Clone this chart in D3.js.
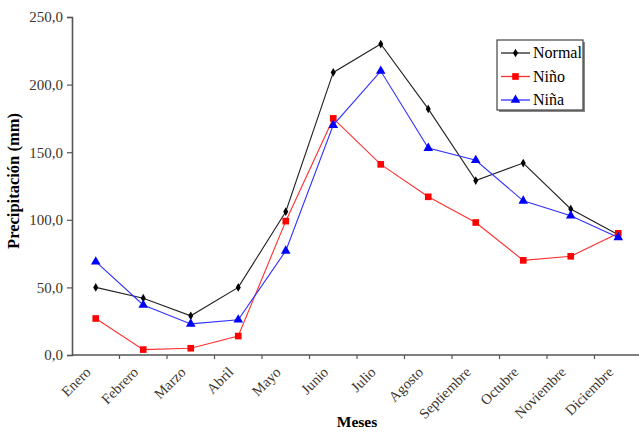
<!DOCTYPE html>
<html>
<head>
<meta charset="utf-8">
<script src="https://cdn.jsdelivr.net/npm/d3@7"></script>
<style>
  body { margin: 0; background: #fff; }
  svg text { font-family: "Liberation Serif", "Times New Roman", Times, "DejaVu Serif", serif !important; }
</style>
</head>
<body>
<div id="container"></div>
<script>
/* CONSTANTS AND GLOBALS */
const width = 639,
  height = 432,
  margin = { top: 17, bottom: 77, left: 72, right: -3 };

// DATA
const meses = ["Enero", "Febrero", "Marzo", "Abril", "Mayo", "Junio",
  "Julio", "Agosto", "Septiembre", "Octubre", "Noviembre", "Diciembre"];
const normal = [50, 42, 29, 50, 106, 209, 230, 182, 129, 142, 108, 89];
const nino = [27, 4, 5, 14, 99, 175, 141, 117, 98, 70, 73, 90];
const nina = [69, 37, 23, 26, 77, 170, 210, 153, 144, 114, 103, 87];
const yTicks = [0, 50, 100, 150, 200, 250];

const serif = "'Liberation Serif', 'Times New Roman', 'DejaVu Serif', serif";

const series = [
  { name: "Normal", values: normal, color: "#000", line: "#222", symbol: d3.symbolDiamond, size: 22 },
  { name: "Niño", values: nino, color: "#ff0000", line: "#ff3030", symbol: d3.symbolSquare, size: 44 },
  { name: "Niña", values: nina, color: "#0000ff", line: "#3030ff", symbol: d3.symbolTriangle, size: 40 }
];

// APPEND SVG
const svg = d3.select("#container")
  .append("svg")
  .attr("width", width)
  .attr("height", height)
  .style("font-family", serif);

// SCALES
const x = d3.scaleBand()
  .domain(meses)
  .range([margin.left, width - margin.right]);

const y = d3.scaleLinear()
  .domain([0, 250])
  .range([height - margin.bottom, margin.top]);

// Y AXIS
const yAxis = svg.append("g")
  .attr("transform", `translate(${margin.left},0)`)
  .call(d3.axisLeft(y).tickValues(yTicks).tickSize(5).tickPadding(4)
    .tickFormat(d => d3.format(".1f")(d).replace(".", ",")));
yAxis.attr("font-family", serif);
yAxis.select(".domain").attr("stroke", "#555").attr("stroke-width", 1.6);
yAxis.selectAll(".tick line").attr("stroke", "#555").attr("stroke-width", 1.2);
yAxis.selectAll(".tick text")
  .attr("fill", "#3b342c")
  .style("font-size", "15px")
  .style("font-family", serif);

// X AXIS (ticks at category boundaries)
const xAxisG = svg.append("g")
  .attr("transform", `translate(0,${y(0)})`);
xAxisG.append("line")
  .attr("x1", margin.left).attr("x2", width)
  .attr("stroke", "#555").attr("stroke-width", 1.6);
xAxisG.selectAll("line.tick")
  .data(meses.slice(1))
  .join("line")
  .attr("class", "tick")
  .attr("x1", d => x(d)).attr("x2", d => x(d))
  .attr("y1", 0).attr("y2", 4)
  .attr("stroke", "#555").attr("stroke-width", 1.2);
xAxisG.selectAll("text.mes")
  .data(meses)
  .join("text")
  .attr("class", "mes")
  .attr("text-anchor", "end")
  .attr("transform", d => `translate(${x(d) + x.bandwidth() / 2 - 4},${18}) rotate(-45)`)
  .attr("fill", "#3b342c")
  .style("font-size", "14.5px")
  .style("font-family", serif)
  .text(d => d);

// AXIS TITLES
svg.append("text")
  .attr("x", 357)
  .attr("y", 427)
  .attr("text-anchor", "middle")
  .style("font-size", "15.5px")
  .style("font-weight", "bold")
  .style("font-family", serif)
  .text("Meses");

svg.append("text")
  .attr("transform", `translate(19,${181}) rotate(-90)`)
  .attr("text-anchor", "middle")
  .style("font-size", "16.5px")
  .style("font-weight", "bold")
  .style("font-family", serif)
  .text("Precipitación (mm)");

// LINES AND MARKERS
const lineGen = d3.line()
  .x((d, i) => x(meses[i]) + x.bandwidth() / 2)
  .y(d => y(d));

series.forEach(s => {
  svg.append("path")
    .datum(s.values)
    .attr("d", lineGen)
    .attr("fill", "none")
    .attr("stroke", s.line)
    .attr("stroke-width", 1.1);

  svg.selectAll(null)
    .data(s.values)
    .join("path")
    .attr("d", d3.symbol().type(s.symbol).size(s.size))
    .attr("fill", s.color)
    .attr("transform", (d, i) => `translate(${x(meses[i]) + x.bandwidth() / 2},${y(d)})`);
});

// LEGEND
const legend = svg.append("g")
  .attr("class", "legend")
  .attr("transform", "translate(497,40)");

legend.append("rect")
  .attr("x", 2).attr("y", 2)
  .attr("width", 86).attr("height", 70)
  .attr("fill", "#888");
legend.append("rect")
  .attr("width", 86).attr("height", 70)
  .attr("fill", "#fff")
  .attr("stroke", "#444")
  .attr("stroke-width", 1.2);

series.forEach((s, i) => {
  const ly = 13 + i * 23.5;
  legend.append("line")
    .attr("x1", 4).attr("x2", 33)
    .attr("y1", ly).attr("y2", ly)
    .attr("stroke", s.line).attr("stroke-width", 1.3);
  legend.append("path")
    .attr("d", d3.symbol().type(s.symbol).size(s.size))
    .attr("fill", s.color)
    .attr("transform", `translate(18.5,${ly})`);
  legend.append("text")
    .attr("x", 36)
    .attr("y", ly + 5)
    .style("font-size", "16px")
    .style("font-family", serif)
    .text(s.name);
});
</script>
</body>
</html>
